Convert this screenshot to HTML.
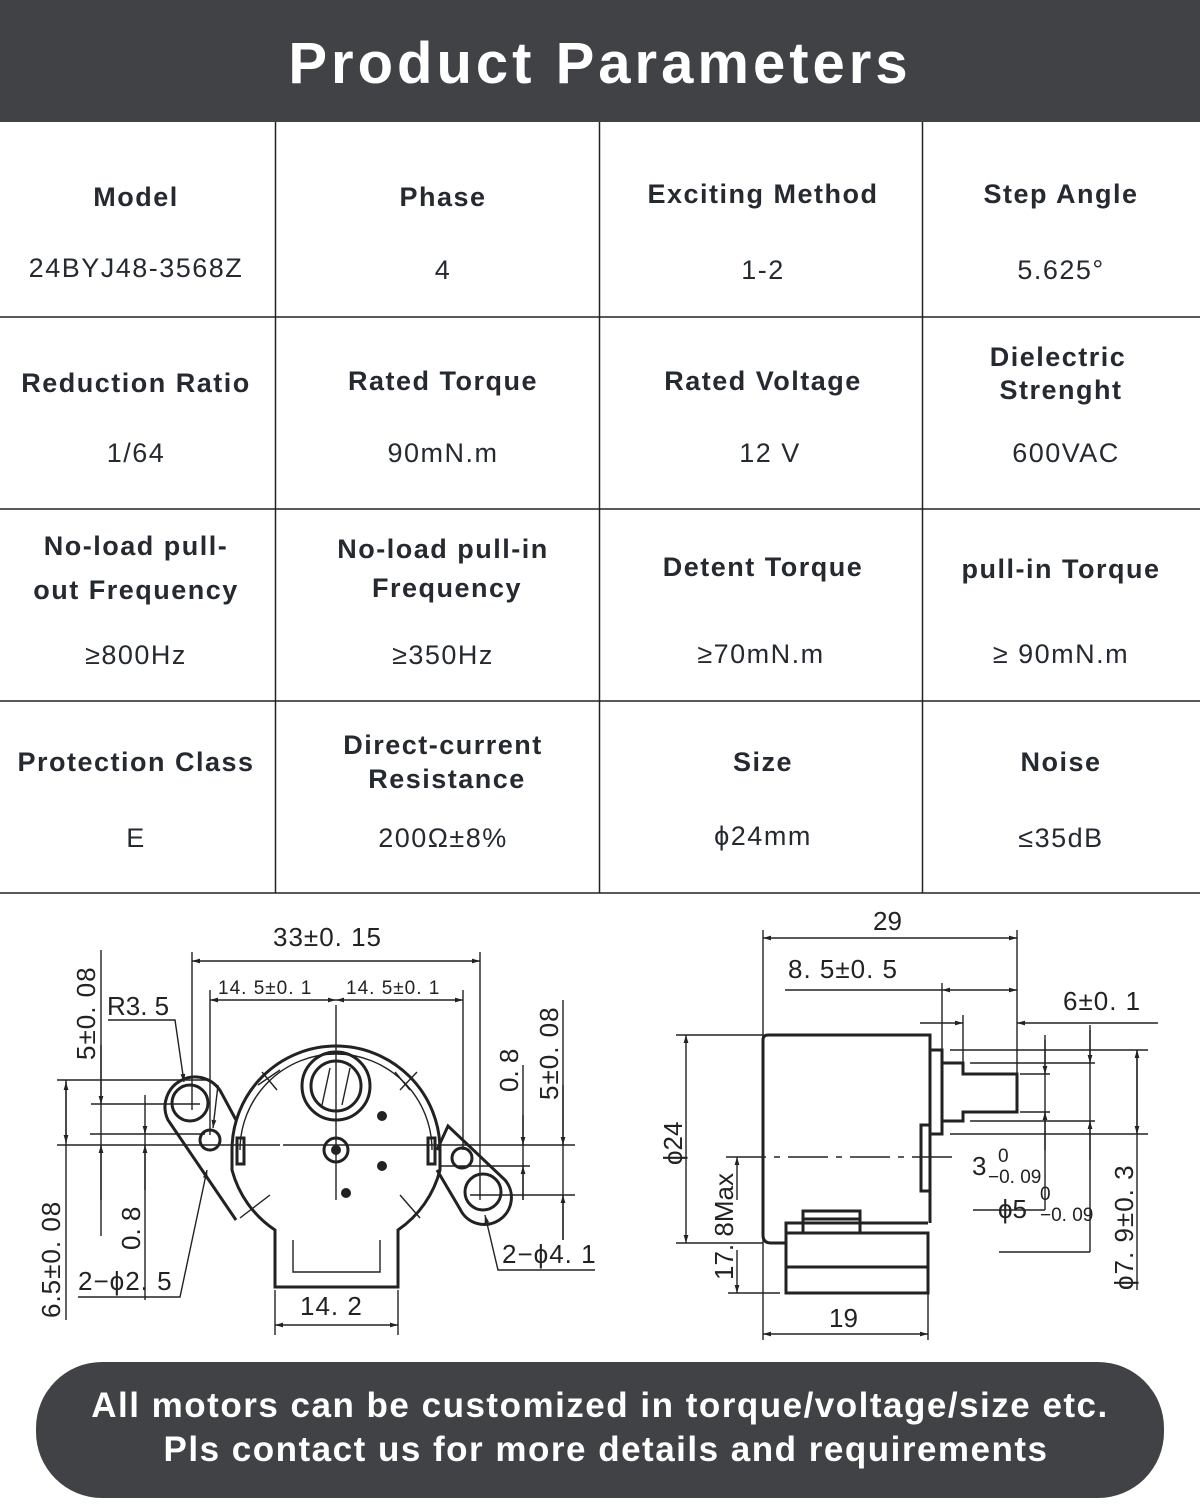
<!DOCTYPE html>
<html><head><meta charset="utf-8"><style>
html,body{margin:0;padding:0;background:#fff;}
svg{display:block}
.h{font-family:"Liberation Sans",sans-serif;font-weight:bold;font-size:27px;fill:#252a30;letter-spacing:1.5px;text-anchor:middle}
.v{font-family:"Liberation Sans",sans-serif;font-size:27px;fill:#252a30;letter-spacing:1.5px;text-anchor:middle}
.d{font-family:"Liberation Sans",sans-serif;font-size:26px;fill:#222;}
.ds{font-family:"Liberation Sans",sans-serif;font-size:19px;fill:#222;}
.k{stroke:#222;stroke-width:1.4;fill:none}
.b{stroke:#222;stroke-width:3;fill:none}
</style></head><body>
<svg width="1200" height="1504" viewBox="0 0 1200 1504" xmlns="http://www.w3.org/2000/svg">
<defs>
<marker id="a" viewBox="0 0 10 10" refX="10" refY="5" markerWidth="14" markerHeight="8" markerUnits="userSpaceOnUse" orient="auto-start-reverse"><path d="M0,2 L10,5 L0,8 z" fill="#222"/></marker>
</defs>
<rect x="0" y="0" width="1200" height="122" fill="#404245"/>
<text x="600" y="83" text-anchor="middle" font-family="Liberation Sans,sans-serif" font-weight="bold" font-size="58" fill="#fff" letter-spacing="4">Product Parameters</text>
<g stroke="#222" stroke-width="1.5">
<line x1="0" y1="317" x2="1200" y2="317"/><line x1="0" y1="509" x2="1200" y2="509"/>
<line x1="0" y1="701" x2="1200" y2="701"/><line x1="0" y1="893" x2="1200" y2="893"/>
<line x1="275.5" y1="122" x2="275.5" y2="893"/><line x1="599.5" y1="122" x2="599.5" y2="893"/><line x1="922.5" y1="122" x2="922.5" y2="893"/>
</g>
<text class="h" x="136" y="206">Model</text><text class="v" x="136" y="277">24BYJ48-3568Z</text>
<text class="h" x="443" y="206">Phase</text><text class="v" x="443" y="279">4</text>
<text class="h" x="763" y="203">Exciting Method</text><text class="v" x="763" y="279">1-2</text>
<text class="h" x="1061" y="203">Step Angle</text><text class="v" x="1061" y="279">5.625°</text>
<text class="h" x="136" y="392">Reduction Ratio</text><text class="v" x="136" y="462">1/64</text>
<text class="h" x="443" y="390">Rated Torque</text><text class="v" x="443" y="462">90mN.m</text>
<text class="h" x="763" y="390">Rated Voltage</text><text class="v" x="770" y="462">12 V</text>
<text class="h" x="1058" y="366">Dielectric</text><text class="h" x="1061" y="399">Strenght</text><text class="v" x="1066" y="462">600VAC</text>
<text class="h" x="136" y="555">No-load pull-</text><text class="h" x="136" y="599">out Frequency</text><text class="v" x="136" y="664">≥800Hz</text>
<text class="h" x="443" y="558">No-load pull-in</text><text class="h" x="447" y="597">Frequency</text><text class="v" x="443" y="664">≥350Hz</text>
<text class="h" x="763" y="576">Detent Torque</text><text class="v" x="761" y="663">≥70mN.m</text>
<text class="h" x="1061" y="578">pull-in Torque</text><text class="v" x="1061" y="663">≥ 90mN.m</text>
<text class="h" x="136" y="771">Protection Class</text><text class="v" x="136" y="847">E</text>
<text class="h" x="443" y="754">Direct-current</text><text class="h" x="447" y="788">Resistance</text><text class="v" x="443" y="847">200Ω±8%</text>
<text class="h" x="763" y="771">Size</text><text class="v" x="763" y="845">ϕ24mm</text>
<text class="h" x="1061" y="771">Noise</text><text class="v" x="1061" y="847">≤35dB</text>

<!-- LEFT DRAWING -->
<g>
<path class="b" d="M232,1150 A104,104 0 0 1 440,1150 L440,1170 A104,104 0 0 1 398,1230 L398,1287 L275,1287 L275,1230 A104,104 0 0 1 232,1170 Z"/>
<path class="k" d="M240,1150 A96,96 0 0 1 432,1150 M293,1240 L293,1272 L380,1272 L380,1240"/>
<path class="b" d="M236,1120 L222,1094 A27,27 0 1 0 168,1120 L236,1220"/>
<path class="b" d="M437,1150 L448,1126 L505,1180 A27,27 0 1 1 460,1209 L437,1170"/>
<circle class="b" cx="190" cy="1103" r="18"/><circle class="b" cx="210" cy="1140" r="10"/>
<circle class="b" cx="462" cy="1158" r="10"/><circle class="b" cx="483" cy="1192" r="18"/>
<circle class="b" cx="336" cy="1086" r="34"/><circle class="b" cx="336" cy="1086" r="25"/>
<path class="k" d="M322,1105 L330,1068 M342,1105 L350,1068"/>
<circle class="b" cx="336" cy="1150" r="12"/><circle cx="336" cy="1150" r="5" fill="#222"/>
<circle cx="382" cy="1116" r="5" fill="#222"/><circle cx="382" cy="1166" r="5" fill="#222"/><circle cx="346" cy="1193" r="5" fill="#222"/>
<rect class="b" x="237" y="1138" width="7" height="26"/><rect class="b" x="428" y="1138" width="7" height="26"/>
<g class="k">
<line x1="262" y1="1072" x2="277" y2="1090"/><line x1="258" y1="1085" x2="280" y2="1070"/>
<line x1="395" y1="1072" x2="410" y2="1090"/><line x1="400" y1="1090" x2="417" y2="1072"/>
<line x1="240" y1="1218" x2="270" y2="1195"/><line x1="400" y1="1195" x2="420" y2="1218"/>
<line x1="57" y1="1145" x2="280" y2="1145"/><line x1="283" y1="1145" x2="575" y2="1145"/>
<line x1="336" y1="1005" x2="336" y2="1200"/>
<line x1="57" y1="1080" x2="210" y2="1080"/><line x1="90" y1="1134" x2="205" y2="1134"/>
<line x1="91" y1="1104" x2="200" y2="1104"/>
<line x1="440" y1="1166" x2="530" y2="1166"/><line x1="470" y1="1195" x2="575" y2="1195"/>
<line x1="192" y1="952" x2="192" y2="1110"/><line x1="480" y1="952" x2="480" y2="1200"/>
<line x1="210" y1="990" x2="210" y2="1135"/><line x1="463" y1="990" x2="463" y2="1150"/>
<line x1="101" y1="950" x2="101" y2="1236"/><line x1="145" y1="1130" x2="145" y2="1300"/>
<line x1="66" y1="1080" x2="66" y2="1320"/>
<line x1="523" y1="1065" x2="523" y2="1200"/><line x1="563" y1="1000" x2="563" y2="1240"/>
<line x1="275" y1="1290" x2="275" y2="1335"/><line x1="398" y1="1290" x2="398" y2="1335"/>
</g>
<g class="k" marker-start="url(#a)" marker-end="url(#a)">
<line x1="192" y1="961" x2="480" y2="961"/>
<line x1="336" y1="1000" x2="463" y2="1000"/>
<line x1="66" y1="1082" x2="66" y2="1143"/>
<line x1="275" y1="1325" x2="398" y2="1325"/>
</g>
<line class="k" x1="210" y1="1000" x2="336" y2="1000" marker-start="url(#a)" marker-end="url(#a)"/>
<g class="k" marker-end="url(#a)">
<line x1="101" y1="1045" x2="101" y2="1104"/><line x1="101" y1="1200" x2="101" y2="1145"/>
<line x1="145" y1="1095" x2="145" y2="1134"/><line x1="145" y1="1190" x2="145" y2="1145"/>
<line x1="523" y1="1115" x2="523" y2="1145"/><line x1="523" y1="1200" x2="523" y2="1166"/>
<line x1="563" y1="1085" x2="563" y2="1145"/><line x1="563" y1="1240" x2="563" y2="1195"/>
<polyline points="108,1020 175,1020 184,1082"/>
<polyline points="78,1297 180,1297 207,1170"/>
<polyline points="595,1270 498,1270 485,1215"/>
<line x1="218" y1="1085" x2="213" y2="1128"/>
</g>
<text class="d" x="273" y="946" letter-spacing="1">33±0. 15</text>
<text class="ds" x="218" y="994" letter-spacing="1">14. 5±0. 1</text>
<text class="ds" x="346" y="994" letter-spacing="1">14. 5±0. 1</text>
<text class="d" x="107" y="1015">R3. 5</text>
<text class="d" x="78" y="1290" letter-spacing="1">2−ϕ2. 5</text>
<text class="d" x="502" y="1263" letter-spacing="1">2−ϕ4. 1</text>
<text class="d" x="300" y="1315" letter-spacing="1">14. 2</text>
<text class="d" transform="translate(95,1060) rotate(-90)" letter-spacing="1">5±0. 08</text>
<text class="d" transform="translate(140,1250) rotate(-90)">0. 8</text>
<text class="d" transform="translate(60,1318) rotate(-90)" letter-spacing="1">6.5±0. 08</text>
<text class="d" transform="translate(518,1092) rotate(-90)">0. 8</text>
<text class="d" transform="translate(558,1100) rotate(-90)" letter-spacing="1">5±0. 08</text>
</g>

<!-- RIGHT DRAWING -->
<g>
<path class="b" d="M786,1243 L771,1243 Q763,1243 763,1235 L763,1040 Q763,1035 768,1035 L930,1035 L930,1223"/>
<rect class="b" x="786" y="1233" width="142" height="60"/>
<line class="b" x1="786" y1="1267" x2="928" y2="1267"/>
<path class="b" d="M786,1233 L786,1223 L928,1223"/>
<rect class="b" x="803" y="1211" width="57" height="22"/><line class="b" x1="803" y1="1219" x2="860" y2="1219"/>
<rect class="b" x="930" y="1050" width="12" height="84"/>
<rect class="b" x="921" y="1125" width="9" height="66"/>
<path class="b" d="M942,1063 L963,1063 L963,1074 L1017,1074 L1017,1112 L963,1112 L963,1121 L942,1121"/>
<g class="k">
<line x1="726" y1="1157" x2="960" y2="1157" stroke-dasharray="40,8,6,8"/>
<line x1="763" y1="930" x2="763" y2="1340"/><line x1="1017" y1="930" x2="1017" y2="1075"/>
<line x1="942" y1="983" x2="942" y2="1050"/><line x1="963" y1="1015" x2="963" y2="1065"/>
<line x1="676" y1="1035" x2="763" y2="1035"/><line x1="676" y1="1243" x2="763" y2="1243"/>
<line x1="728" y1="1293" x2="780" y2="1293"/><line x1="928" y1="1293" x2="928" y2="1340"/>
<line x1="950" y1="1050" x2="1148" y2="1050"/><line x1="950" y1="1134" x2="1148" y2="1134"/>
<line x1="970" y1="1063" x2="1095" y2="1063"/><line x1="970" y1="1121" x2="1095" y2="1121"/>
<line x1="1020" y1="1074" x2="1050" y2="1074"/><line x1="1020" y1="1112" x2="1050" y2="1112"/>
<line x1="1045" y1="1035" x2="1045" y2="1210"/><line x1="1090" y1="1025" x2="1090" y2="1252"/>
<line x1="1137" y1="1050" x2="1137" y2="1290"/>
<line x1="973" y1="1210" x2="1045" y2="1210"/><line x1="999" y1="1252" x2="1090" y2="1252"/>
</g>
<g class="k" marker-start="url(#a)" marker-end="url(#a)">
<line x1="763" y1="938" x2="1017" y2="938"/>
<line x1="686" y1="1035" x2="686" y2="1243"/>
<line x1="763" y1="1334" x2="928" y2="1334"/>
<line x1="1137" y1="1050" x2="1137" y2="1134"/>
</g>
<line class="k" x1="785" y1="990" x2="942" y2="990"/>
<line class="k" x1="942" y1="990" x2="1017" y2="990" marker-start="url(#a)" marker-end="url(#a)"/>
<line class="k" x1="920" y1="1023" x2="963" y2="1023" marker-end="url(#a)"/>
<line class="k" x1="1158" y1="1023" x2="1017" y2="1023" marker-end="url(#a)"/>
<g class="k" marker-end="url(#a)">
<line x1="737" y1="1200" x2="737" y2="1157"/><line x1="737" y1="1250" x2="737" y2="1293"/>
<line x1="1045" y1="1040" x2="1045" y2="1074"/><line x1="1045" y1="1150" x2="1045" y2="1112"/>
<line x1="1090" y1="1030" x2="1090" y2="1063"/><line x1="1090" y1="1160" x2="1090" y2="1121"/>
</g>
<text class="d" x="873" y="930">29</text>
<text class="d" x="788" y="978" letter-spacing="1">8. 5±0. 5</text>
<text class="d" x="1063" y="1010" letter-spacing="1">6±0. 1</text>
<text class="d" x="972" y="1175">3</text><text class="ds" x="998" y="1162">0</text><text class="ds" x="988" y="1183">−0. 09</text>
<text class="d" x="998" y="1218">ϕ5</text><text class="ds" x="1040" y="1200">0</text><text class="ds" x="1040" y="1221">−0. 09</text>
<text class="d" x="829" y="1327">19</text>
<text class="d" transform="translate(682,1165) rotate(-90)">ϕ24</text>
<text class="d" transform="translate(733,1280) rotate(-90)">17. 8Max</text>
<text class="d" transform="translate(1133,1290) rotate(-90)" letter-spacing="1">ϕ7. 9±0. 3</text>
</g>

<rect x="36" y="1362" width="1128" height="136" rx="66" fill="#404245"/>
<text x="600" y="1417" text-anchor="middle" font-family="Liberation Sans,sans-serif" font-weight="bold" font-size="35" fill="#fff" letter-spacing="1.5">All motors can be customized in torque/voltage/size etc.</text>
<text x="606" y="1461" text-anchor="middle" font-family="Liberation Sans,sans-serif" font-weight="bold" font-size="35" fill="#fff" letter-spacing="1.5">Pls contact us for more details and requirements</text>
</svg>
</body></html>
